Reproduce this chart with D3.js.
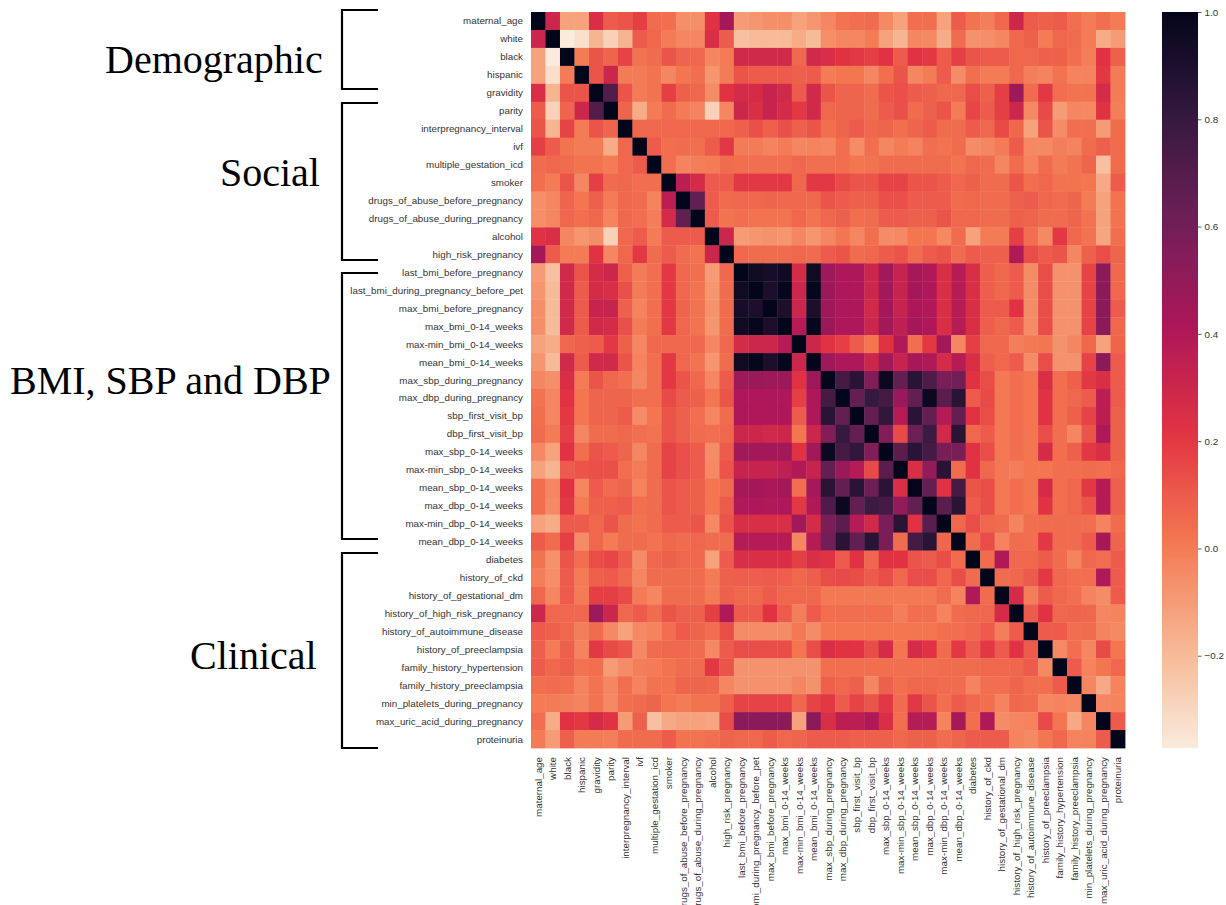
<!DOCTYPE html>
<html>
<head>
<meta charset="utf-8">
<script src="https://cdn.jsdelivr.net/npm/d3@7"></script>
<style>
  body { margin: 0; background: #fff; }
  svg { display: block; }
</style>
</head>
<body>
<div id="chart"></div>
<script>
// variable names, in row / column order
const labels = [
  "maternal_age", "white", "black", "hispanic", "gravidity", "parity",
  "interpregnancy_interval", "ivf", "multiple_gestation_icd", "smoker",
  "drugs_of_abuse_before_pregnancy", "drugs_of_abuse_during_pregnancy", "alcohol",
  "high_risk_pregnancy", "last_bmi_before_pregnancy", "last_bmi_during_pregnancy_before_pet",
  "max_bmi_before_pregnancy", "max_bmi_0-14_weeks", "max-min_bmi_0-14_weeks",
  "mean_bmi_0-14_weeks", "max_sbp_during_pregnancy", "max_dbp_during_pregnancy",
  "sbp_first_visit_bp", "dbp_first_visit_bp", "max_sbp_0-14_weeks", "max-min_sbp_0-14_weeks",
  "mean_sbp_0-14_weeks", "max_dbp_0-14_weeks", "max-min_dbp_0-14_weeks", "mean_dbp_0-14_weeks",
  "diabetes", "history_of_ckd", "history_of_gestational_dm", "history_of_high_risk_pregnancy",
  "history_of_autoimmune_disease", "history_of_preeclampsia", "family_history_hypertension",
  "family_history_preeclampsia", "min_platelets_during_pregnancy",
  "max_uric_acid_during_pregnancy", "proteinuria"
];

// lower triangle of the correlation matrix (row i holds columns 0..i)
const corrLower = [
  [1],
  [0.30, 1],
  [-0.12, -0.372, 1],
  [-0.12, -0.33, 0.00, 1],
  [0.25, -0.18, 0.12, 0.12, 1],
  [0.10, -0.28, 0.07, 0.30, 0.70, 1],
  [0.12, -0.18, 0.17, 0.00, 0.12, 0.07, 1],
  [0.18, 0.10, 0.03, 0.00, 0.00, -0.15, 0.06, 1],
  [0.05, 0.06, 0.05, 0.03, 0.03, 0.00, 0.06, 0.10, 1],
  [0.04, 0.00, 0.12, -0.03, 0.18, 0.05, 0.06, 0.04, 0.04, 1],
  [-0.06, -0.03, 0.07, 0.02, 0.08, 0.00, 0.06, 0.05, -0.02, 0.36, 1],
  [-0.06, -0.03, 0.06, 0.04, 0.06, -0.02, 0.06, 0.04, -0.01, 0.27, 0.65, 1],
  [0.22, 0.25, -0.03, -0.08, -0.05, -0.28, 0.06, 0.10, 0.00, 0.10, 0.10, 0.10, 1],
  [0.44, 0.10, 0.00, 0.00, 0.22, -0.03, 0.06, 0.20, 0.05, 0.10, 0.05, 0.03, 0.30, 1],
  [-0.10, -0.22, 0.28, 0.12, 0.27, 0.30, 0.08, 0.00, 0.04, 0.20, 0.06, 0.04, -0.10, 0.06, 1],
  [-0.08, -0.20, 0.28, 0.10, 0.27, 0.25, 0.13, 0.00, 0.04, 0.20, 0.06, 0.03, -0.08, 0.05, 0.95, 1],
  [-0.06, -0.20, 0.28, 0.10, 0.32, 0.32, 0.08, -0.02, 0.04, 0.20, 0.07, 0.03, -0.07, 0.05, 0.92, 0.90, 1],
  [-0.06, -0.20, 0.28, 0.10, 0.28, 0.27, 0.13, 0.00, 0.04, 0.20, 0.06, 0.03, -0.08, 0.05, 0.95, 0.99, 0.90, 1],
  [-0.12, -0.15, 0.06, 0.08, 0.10, 0.20, 0.08, -0.03, 0.06, 0.06, 0.06, 0.06, -0.03, 0.06, 0.27, 0.30, 0.30, 0.38, 1],
  [-0.08, -0.20, 0.28, 0.10, 0.28, 0.28, 0.12, -0.02, 0.04, 0.20, 0.06, 0.03, -0.08, 0.05, 0.95, 0.99, 0.90, 0.99, 0.30, 1],
  [-0.03, -0.06, 0.25, 0.00, 0.12, 0.06, 0.04, -0.03, 0.04, 0.20, 0.12, 0.06, -0.03, 0.10, 0.46, 0.47, 0.46, 0.47, 0.22, 0.46, 1],
  [0.03, -0.03, 0.22, 0.02, 0.07, 0.07, 0.07, 0.04, 0.04, 0.15, 0.10, 0.08, 0.02, 0.12, 0.41, 0.41, 0.41, 0.41, 0.18, 0.41, 0.75, 1],
  [0.04, -0.03, 0.20, 0.02, 0.07, 0.07, 0.10, -0.05, 0.02, 0.12, 0.08, 0.04, -0.03, 0.05, 0.41, 0.41, 0.41, 0.41, 0.10, 0.41, 0.85, 0.65, 1],
  [0.05, 0.00, 0.18, -0.03, 0.05, 0.05, 0.06, 0.04, 0.03, 0.12, 0.08, 0.05, 0.04, 0.06, 0.30, 0.30, 0.28, 0.30, 0.02, 0.30, 0.55, 0.80, 0.65, 1],
  [-0.04, -0.12, 0.22, 0.04, 0.12, 0.10, 0.07, -0.03, 0.05, 0.17, 0.13, 0.10, -0.05, 0.10, 0.45, 0.45, 0.44, 0.45, 0.22, 0.45, 0.97, 0.75, 0.82, 0.55, 1],
  [-0.12, -0.18, 0.10, 0.12, 0.13, 0.13, 0.04, 0.00, 0.05, 0.17, 0.13, 0.10, -0.04, 0.12, 0.32, 0.32, 0.32, 0.35, 0.40, 0.32, 0.65, 0.48, 0.38, 0.15, 0.68, 1],
  [0.04, -0.03, 0.22, -0.03, 0.10, 0.05, 0.07, -0.02, 0.05, 0.12, 0.10, 0.08, 0.02, 0.05, 0.43, 0.44, 0.42, 0.44, 0.04, 0.43, 0.85, 0.65, 0.85, 0.62, 0.85, 0.25, 1],
  [0.04, -0.04, 0.20, 0.00, 0.08, 0.08, 0.10, 0.04, 0.05, 0.12, 0.10, 0.08, 0.02, 0.10, 0.40, 0.41, 0.40, 0.41, 0.20, 0.40, 0.72, 0.97, 0.65, 0.78, 0.75, 0.50, 0.65, 1],
  [-0.12, -0.15, 0.10, 0.10, 0.06, 0.12, 0.05, 0.03, 0.05, 0.10, 0.10, 0.12, -0.04, 0.12, 0.25, 0.25, 0.25, 0.25, 0.45, 0.27, 0.58, 0.68, 0.38, 0.28, 0.58, 0.85, 0.22, 0.68, 1],
  [0.10, 0.05, 0.18, -0.05, 0.06, 0.00, 0.05, 0.05, 0.03, 0.06, 0.05, 0.06, 0.05, 0.05, 0.38, 0.38, 0.38, 0.38, -0.03, 0.38, 0.60, 0.85, 0.65, 0.85, 0.58, 0.05, 0.75, 0.85, 0.06, 1],
  [0.03, -0.07, 0.12, 0.04, 0.14, 0.16, 0.10, -0.05, 0.06, 0.08, 0.06, 0.06, -0.12, 0.10, 0.25, 0.25, 0.25, 0.25, 0.18, 0.25, 0.22, 0.10, 0.22, 0.06, 0.22, 0.22, 0.12, 0.10, 0.14, 0.05, 1],
  [-0.01, -0.06, 0.10, 0.00, 0.08, 0.10, 0.06, -0.03, 0.05, 0.05, 0.05, 0.05, 0.00, 0.08, 0.09, 0.09, 0.10, 0.09, 0.06, 0.09, 0.14, 0.15, 0.14, 0.10, 0.14, 0.06, 0.14, 0.14, 0.06, 0.14, 0.05, 1],
  [0.06, -0.03, 0.10, 0.00, 0.18, 0.18, 0.15, 0.00, -0.03, 0.05, 0.05, 0.05, 0.00, 0.08, 0.06, 0.06, 0.10, 0.06, 0.06, 0.06, 0.01, 0.01, 0.01, 0.01, 0.01, 0.01, 0.01, 0.01, 0.05, -0.02, 0.40, 0.05, 1],
  [0.30, 0.06, 0.06, 0.06, 0.46, 0.30, 0.06, 0.10, 0.05, 0.12, 0.08, 0.08, 0.18, 0.40, 0.10, 0.10, 0.22, 0.10, -0.01, 0.10, 0.04, 0.04, 0.04, 0.04, 0.04, -0.01, 0.04, 0.04, -0.02, 0.05, 0.06, 0.06, 0.27, 1],
  [0.10, 0.08, 0.06, -0.01, 0.05, -0.04, -0.12, -0.04, -0.02, 0.04, 0.10, 0.07, 0.04, 0.14, -0.05, -0.05, -0.05, -0.05, 0.01, -0.05, 0.02, 0.02, 0.02, 0.02, 0.02, 0.02, 0.02, 0.02, 0.04, 0.04, 0.06, 0.10, -0.01, 0.10, 1],
  [0.08, 0.00, 0.08, -0.02, 0.20, 0.15, 0.12, -0.04, 0.05, 0.06, 0.06, 0.05, -0.04, 0.10, 0.14, 0.14, 0.14, 0.14, 0.02, 0.14, 0.25, 0.22, 0.22, 0.14, 0.27, 0.02, 0.27, 0.22, 0.05, 0.20, 0.10, 0.20, 0.10, 0.22, 0.10, 1],
  [0.10, 0.06, 0.08, 0.03, 0.04, -0.10, -0.05, -0.01, 0.00, 0.03, 0.05, 0.05, 0.20, 0.12, -0.07, -0.07, -0.07, -0.07, -0.07, -0.07, 0.04, 0.04, 0.04, 0.04, 0.04, 0.04, 0.04, 0.04, 0.05, 0.05, 0.05, 0.06, 0.06, 0.06, 0.10, -0.04, 1],
  [0.04, 0.05, 0.04, -0.02, 0.03, -0.03, 0.04, -0.02, 0.03, 0.03, 0.07, 0.07, 0.06, -0.03, -0.07, -0.07, -0.07, -0.07, -0.03, -0.07, 0.08, 0.06, 0.08, -0.03, 0.08, 0.04, 0.06, 0.06, 0.05, 0.05, -0.02, 0.04, 0.04, 0.07, 0.04, 0.04, 0.10, 1],
  [0.00, 0.00, -0.01, -0.02, 0.03, -0.04, 0.04, 0.05, 0.07, 0.02, 0.00, 0.03, 0.03, 0.08, 0.17, 0.17, 0.17, 0.17, 0.06, 0.17, 0.20, 0.10, 0.17, 0.12, 0.20, 0.05, 0.20, 0.12, 0.04, 0.10, 0.06, 0.04, -0.02, 0.06, 0.05, -0.03, -0.02, -0.03, 1],
  [0.04, -0.15, 0.22, 0.20, 0.27, 0.22, -0.10, 0.08, -0.22, -0.14, -0.12, -0.12, -0.13, 0.14, 0.52, 0.52, 0.52, 0.52, -0.12, 0.52, 0.25, 0.36, 0.36, 0.40, 0.25, 0.04, 0.38, 0.38, -0.02, 0.43, 0.04, 0.40, -0.05, -0.03, -0.02, 0.15, 0.02, -0.14, -0.03, 1],
  [0.00, -0.10, 0.08, 0.00, 0.00, -0.01, 0.05, 0.05, 0.05, 0.10, 0.03, 0.03, 0.04, 0.07, 0.06, 0.06, 0.10, 0.06, 0.07, 0.10, 0.10, 0.10, 0.08, 0.08, 0.08, 0.06, 0.08, 0.08, 0.05, 0.07, 0.10, 0.10, 0.10, -0.02, -0.04, 0.02, 0.06, -0.02, -0.02, 0.10, 1]
];

const groupNames = ["Demographic", "Social", "BMI, SBP and DBP", "Clinical"];
const colorbarTicks = [1.0, 0.8, 0.6, 0.4, 0.2, 0.0, -0.2];

// seaborn "rocket" samples, used reversed (high values dark)
const rocketStops = [0, 1 / 7, 2 / 7, 3 / 7, 4 / 7, 5 / 7, 6 / 7, 1];
const rocketColors = ["#03051a", "#35193e", "#701f57", "#ad1759", "#e13342", "#f37651", "#f6b48f", "#faebdd"];

const width = 1226,
  height = 905;
const plotLeft = 531, plotRight = 1125, plotTop = 12, plotBottom = 748;

// layout of the hand drawn group brackets and their titles
const bracketX = 342, bracketEnd = 378;
const groupLayout = [
  { y0: 10, y1: 89, tx: 105, ty: 73 },
  { y0: 103, y1: 260, tx: 220, ty: 186 },
  { y0: 273, y1: 539, tx: 10, ty: 394 },
  { y0: 553, y1: 748, tx: 190, ty: 669 }
];

// full symmetric matrix as cells
const cells = [];
labels.forEach((rowName, i) => {
  labels.forEach((colName, j) => {
    const v = i >= j ? corrLower[i][j] : corrLower[j][i];
    cells.push({ row: rowName, col: colName, value: v });
  });
});

const vmin = d3.min(cells, (d) => d.value);
const vmax = d3.max(cells, (d) => d.value);

const rocket = d3.scaleLinear().domain(rocketStops).range(rocketColors).interpolate(d3.interpolateRgb);
const toPos = d3.scaleLinear().domain([vmax, vmin]).range([0, 1]);
const color = (v) => rocket(toPos(v));

const svg = d3
  .select("#chart")
  .append("svg")
  .attr("width", width)
  .attr("height", height);

const x = d3.scaleBand().domain(labels).range([plotLeft, plotRight]);
const y = d3.scaleBand().domain(labels).range([plotTop, plotBottom]);

// the heatmap
svg
  .append("g")
  .selectAll("rect")
  .data(cells)
  .join("rect")
  .attr("x", (d) => x(d.col))
  .attr("y", (d) => y(d.row))
  .attr("width", x.bandwidth() + 0.4)
  .attr("height", y.bandwidth() + 0.4)
  .attr("fill", (d) => color(d.value));

const labelFont = "'Liberation Sans', Arial, sans-serif";

// row labels
svg
  .append("g")
  .selectAll("text")
  .data(labels)
  .join("text")
  .attr("x", plotLeft - 8)
  .attr("y", (d) => y(d) + y.bandwidth() / 2)
  .attr("text-anchor", "end")
  .attr("dominant-baseline", "central")
  .style("font-family", labelFont)
  .style("font-size", "9.8px")
  .style("fill", "#333")
  .text((d) => d);

// column labels, rotated
svg
  .append("g")
  .selectAll("text")
  .data(labels)
  .join("text")
  .attr("transform", (d) => `translate(${x(d) + x.bandwidth() / 2},${plotBottom + 9}) rotate(-90)`)
  .attr("text-anchor", "end")
  .attr("dominant-baseline", "central")
  .style("font-family", labelFont)
  .style("font-size", "9.8px")
  .style("fill", "#333")
  .text((d) => d);

// colorbar
const cbX = 1162, cbW = 36;
const cbScale = d3.scaleLinear().domain([vmin, vmax]).range([plotBottom, plotTop]);
const defs = svg.append("defs");
const grad = defs
  .append("linearGradient")
  .attr("id", "cbgrad")
  .attr("x1", 0).attr("y1", 1).attr("x2", 0).attr("y2", 0);
grad
  .selectAll("stop")
  .data(d3.range(0, 1.0001, 0.02))
  .join("stop")
  .attr("offset", (t) => t)
  .attr("stop-color", (t) => color(vmin + t * (vmax - vmin)));

svg
  .append("rect")
  .attr("x", cbX)
  .attr("y", plotTop)
  .attr("width", cbW)
  .attr("height", plotBottom - plotTop)
  .attr("fill", "url(#cbgrad)");

const cbAxis = svg
  .append("g")
  .attr("transform", `translate(${cbX + cbW},0)`)
  .call(d3.axisRight(cbScale).tickValues(colorbarTicks).tickFormat(d3.format(".1f")).tickSize(3.5).tickPadding(3));
cbAxis.select(".domain").remove();
cbAxis.selectAll("line").attr("stroke", "#333").attr("stroke-width", 0.8);
cbAxis
  .selectAll("text")
  .style("font-family", labelFont)
  .style("font-size", "9.8px")
  .style("fill", "#333");

// group brackets and titles
const groups = groupNames.map((name, i) => Object.assign({ name }, groupLayout[i]));

svg
  .append("g")
  .selectAll("path")
  .data(groups)
  .join("path")
  .attr("d", (d) => `M${bracketEnd},${d.y0}H${bracketX}V${d.y1}H${bracketEnd}`)
  .attr("fill", "none")
  .attr("stroke", "black")
  .attr("stroke-width", 2.2);

svg
  .append("g")
  .selectAll("text")
  .data(groups)
  .join("text")
  .attr("x", (d) => d.tx)
  .attr("y", (d) => d.ty)
  .style("font-family", "'Liberation Serif', 'Times New Roman', serif")
  .style("font-size", "40px")
  .style("fill", "black")
  .text((d) => d.name);
</script>
</body>
</html>
